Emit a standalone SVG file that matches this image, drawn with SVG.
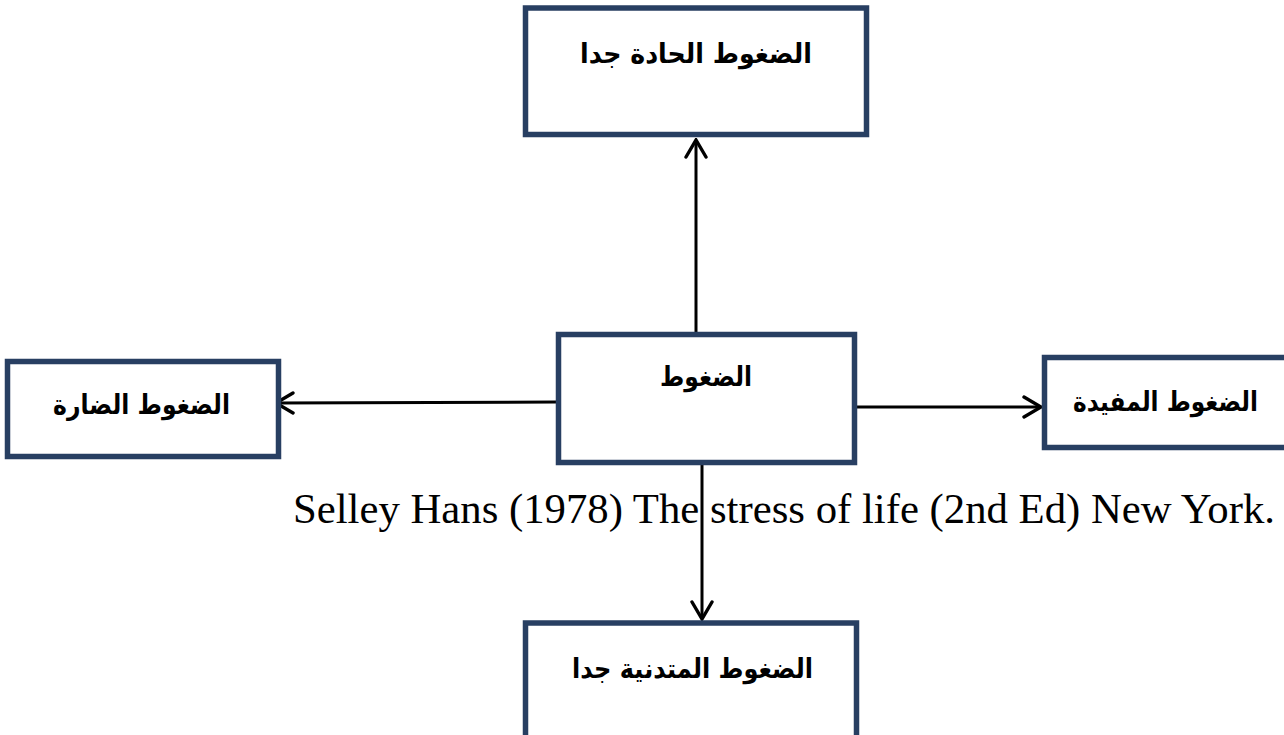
<svg xmlns="http://www.w3.org/2000/svg" width="1284" height="735" viewBox="0 0 1284 735">
<style>
.box{fill:#ffffff;stroke:#283f62;stroke-width:5.5}
.open{fill:#ffffff;stroke:#283f62;stroke-width:5.5;stroke-linejoin:miter}
.ar{font-family:"DejaVu Sans",sans-serif;font-weight:bold;font-size:27px;fill:#000;text-anchor:middle}
.conn{stroke:#000;stroke-width:3;fill:none}
.cite{font-family:"Liberation Serif","Times New Roman",serif;font-size:42px;fill:#000}
</style>
<defs>
<marker id="arrL" viewBox="0 0 22 24" refX="20" refY="12" markerWidth="22" markerHeight="24" markerUnits="userSpaceOnUse" orient="auto">
<path d="M3,2 L20,12 L3,22" fill="none" stroke="#000" stroke-width="3.4" stroke-linecap="round"/>
</marker>
</defs>
<rect width="1284" height="735" fill="#ffffff"/>
<g id="connectors">
<line class="conn" x1="696" y1="332" x2="696" y2="140" marker-end="url(#arrL)"/>
<line class="conn" x1="556" y1="402" x2="276" y2="403" marker-end="url(#arrL)"/>
<line class="conn" x1="857" y1="407" x2="1041" y2="407" marker-end="url(#arrL)"/>
<line class="conn" x1="702" y1="465" x2="702" y2="619" marker-end="url(#arrL)"/>
</g>
<g id="node-top">
<rect class="box" x="525.5" y="8" width="341" height="126.5"/>
<text class="ar" x="696" y="63" textLength="232" lengthAdjust="spacingAndGlyphs">الضغوط الحادة جدا</text>
</g>
<g id="node-center">
<rect class="box" x="558.5" y="334.5" width="296" height="128"/>
<text class="ar" x="706" y="386" textLength="92" lengthAdjust="spacingAndGlyphs">الضغوط</text>
</g>
<g id="node-left">
<rect class="box" x="7.5" y="361.5" width="271" height="95"/>
<text class="ar" x="141.5" y="414" textLength="177" lengthAdjust="spacingAndGlyphs">الضغوط الضارة</text>
</g>
<g id="node-right">
<path class="open" d="M1284,357.5 H1044.5 V447.5 H1284"/>
<text class="ar" x="1165.5" y="411" textLength="185" lengthAdjust="spacingAndGlyphs">الضغوط المفيدة</text>
</g>
<g id="node-bottom">
<path class="open" d="M525.5,735 V623 H856.5 V735"/>
<text class="ar" x="692.5" y="678" textLength="241" lengthAdjust="spacingAndGlyphs">الضغوط المتدنية جدا</text>
</g>
<text class="cite" x="293" y="523" textLength="982" lengthAdjust="spacingAndGlyphs">Selley Hans (1978) The stress of life (2nd Ed) New York.</text>
</svg>
